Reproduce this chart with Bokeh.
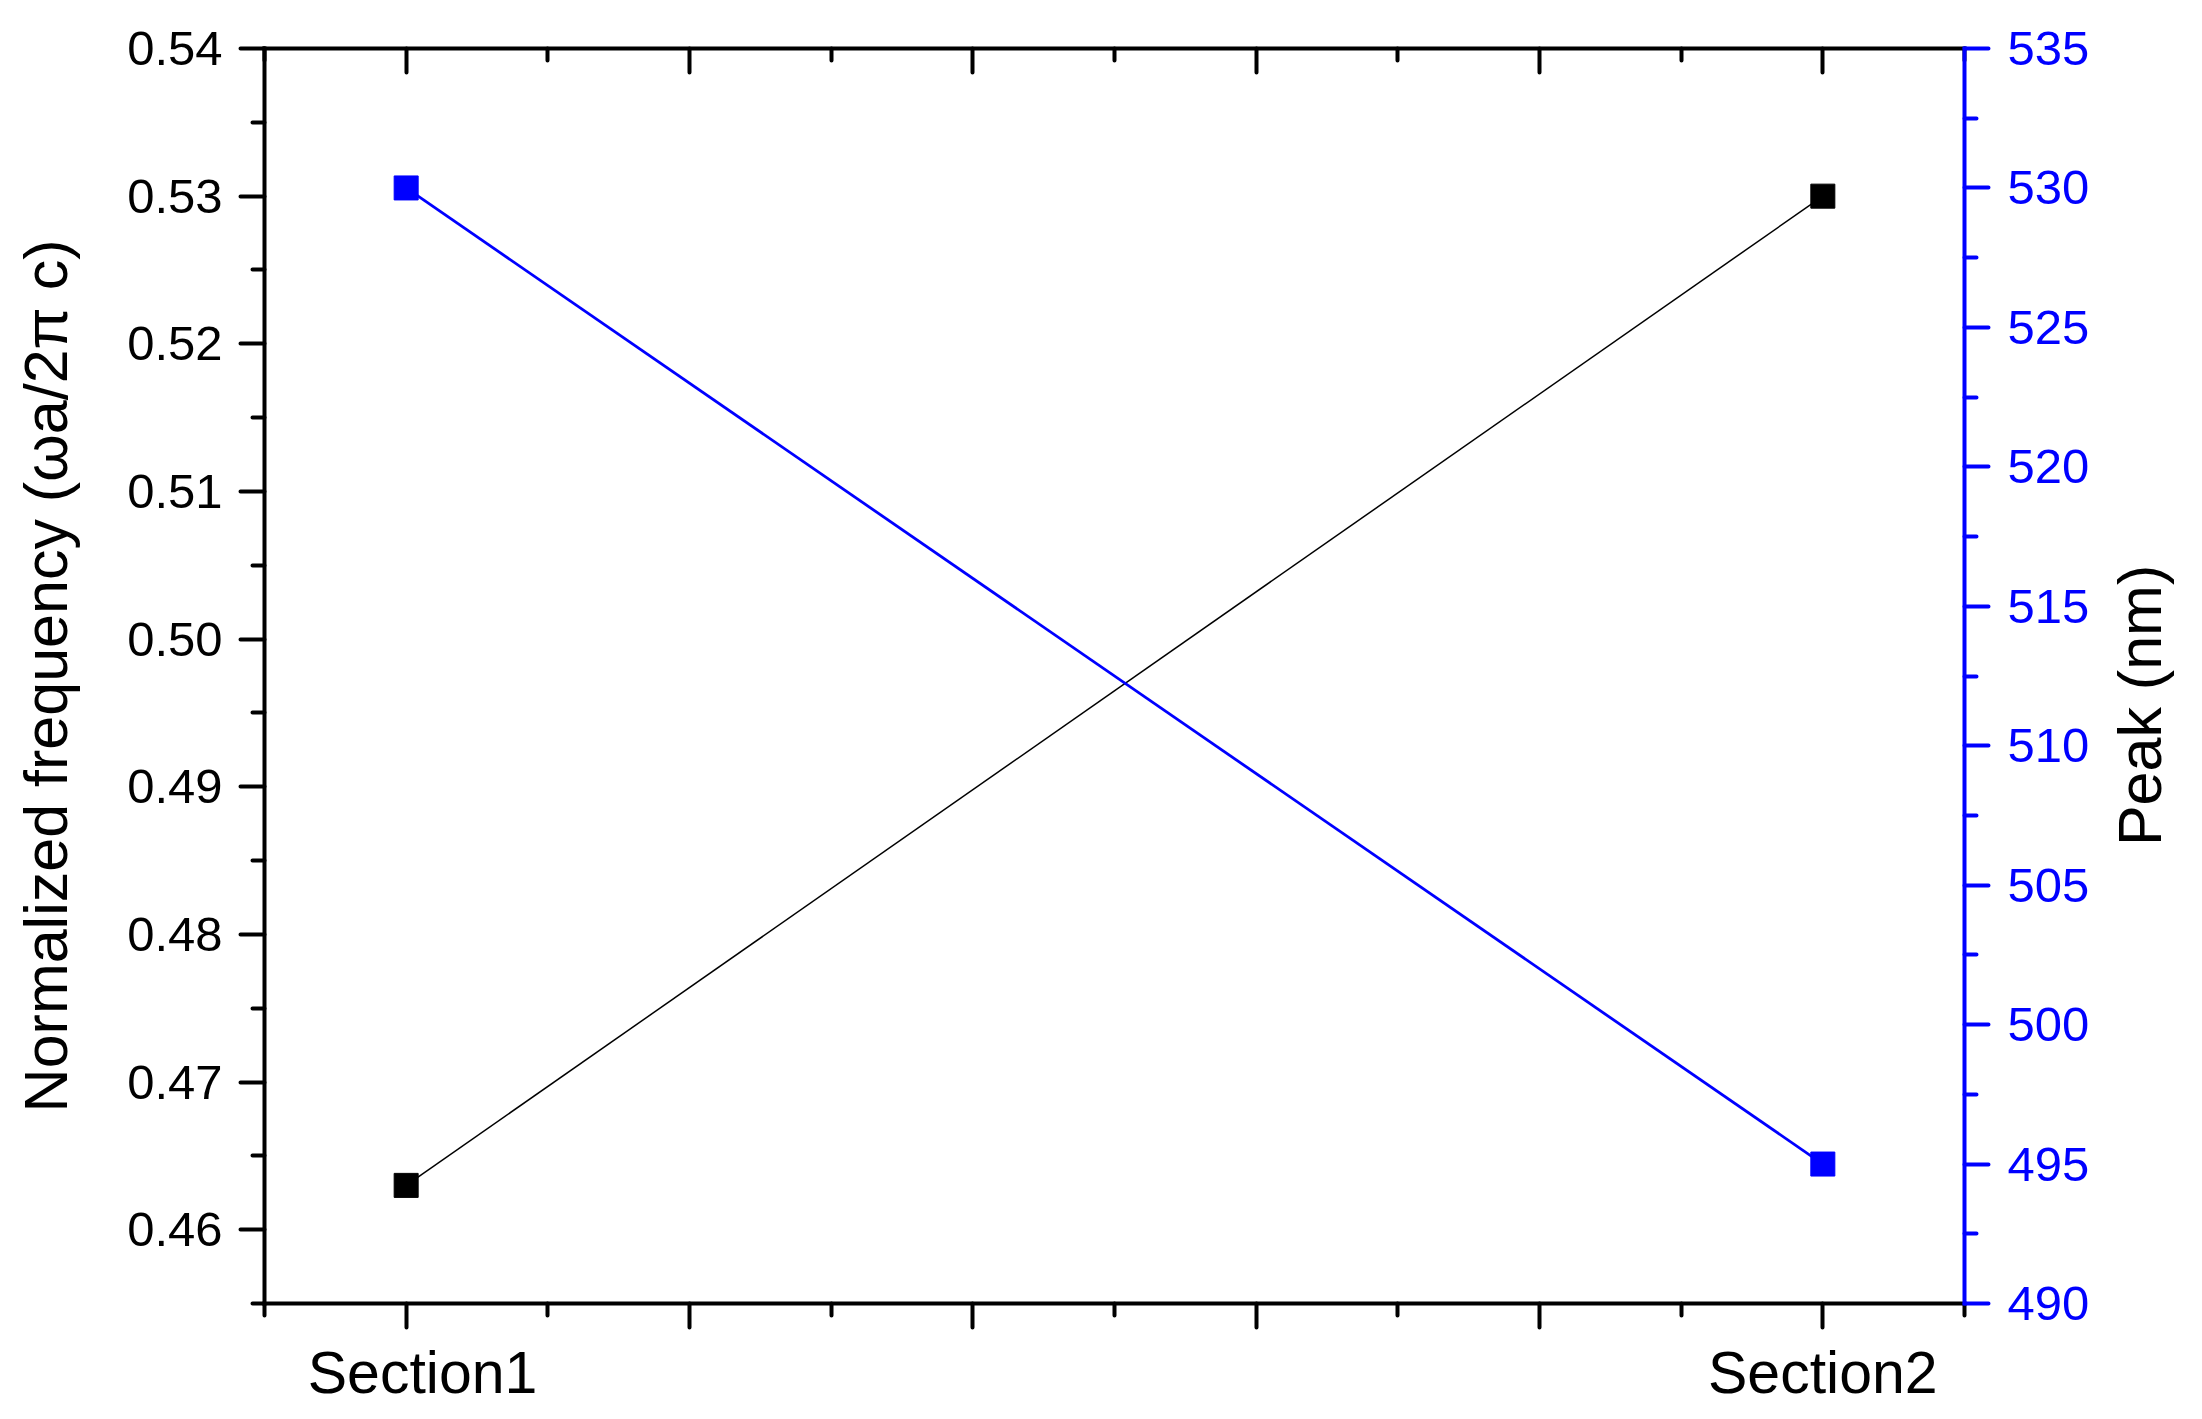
import math
from bokeh.plotting import figure
from bokeh.models import Range1d, LinearAxis, FixedTicker, PrintfTickFormatter, Label
from bokeh.embed import file_html
from bokeh.resources import INLINE

# ---- data ----
sections = ["Section1", "Section2"]
x_pos = [1.0, 2.0]
norm_freq = [0.463, 0.530]
peak_nm = [530, 495]

x_major = [1.0, 1.2, 1.4, 1.6, 1.8, 2.0]
x_minor = [0.9, 1.1, 1.3, 1.5, 1.7, 1.9, 2.1]
y_left_major = [0.46, 0.47, 0.48, 0.49, 0.50, 0.51, 0.52, 0.53, 0.54]
y_left_minor = [0.455, 0.465, 0.475, 0.485, 0.495, 0.505, 0.515, 0.525, 0.535]
y_right_major = [490, 495, 500, 505, 510, 515, 520, 525, 530, 535]
y_right_minor = [492.5, 497.5, 502.5, 507.5, 512.5, 517.5, 522.5, 527.5, 532.5]

left_title = "Normalized frequency (ωa/2π c)"
right_title = "Peak (nm)"

FONT = "Liberation Sans"
BLUE = "#0000ff"

p = figure(frame_width=1700, frame_height=1255,
           x_range=Range1d(0.9, 2.1), y_range=Range1d(0.455, 0.54),
           output_backend="svg", toolbar_location=None,
           min_border_left=264, min_border_top=48, min_border_right=226,
           min_border_bottom=100, x_axis_location=None, y_axis_location=None)
p.grid.visible = False
p.outline_line_color = None
p.background_fill_color = "white"
p.border_fill_color = "white"

p.extra_y_ranges = {"peak": Range1d(490, 535)}

def style(ax, color="black"):
    ax.axis_line_width = 4
    ax.axis_line_color = color
    ax.axis_line_cap = "square"
    ax.major_tick_line_width = 4
    ax.minor_tick_line_width = 4
    ax.major_tick_line_color = color
    ax.minor_tick_line_color = color
    ax.major_tick_line_cap = "round"
    ax.minor_tick_line_cap = "round"
    ax.major_label_text_font = FONT
    ax.major_label_text_color = color
    ax.axis_label_text_font = FONT
    ax.axis_label_text_font_style = "normal"
    ax.axis_label_text_color = "black"

# bottom axis
xb = LinearAxis(ticker=FixedTicker(ticks=x_major, minor_ticks=x_minor))
style(xb)
xb.major_tick_out = 24
xb.major_tick_in = 0
xb.minor_tick_out = 12
xb.minor_tick_in = 0
overrides = {t: "" for t in x_major}
for xp, lab in zip(x_pos, sections):
    overrides[xp] = lab
overrides[x_pos[0]] = "\u00a0\u00a0" + sections[0]
xb.major_label_overrides = overrides
xb.major_label_text_font_size = "59px"
xb.major_label_standoff = 12
p.add_layout(xb, "below")

# top axis (inward ticks, no labels)
xt = LinearAxis(ticker=FixedTicker(ticks=x_major, minor_ticks=x_minor))
style(xt)
xt.major_tick_out = 0
xt.major_tick_in = 24
xt.minor_tick_out = 0
xt.minor_tick_in = 12
xt.major_label_text_font_size = "0px"
xt.major_label_standoff = 0
xt.major_label_text_alpha = 0
p.add_layout(xt, "above")

# left axis
yl = LinearAxis(ticker=FixedTicker(ticks=y_left_major, minor_ticks=y_left_minor),
                formatter=PrintfTickFormatter(format="%.2f"),
                axis_label=left_title)
style(yl)
yl.major_tick_out = 24
yl.major_tick_in = 0
yl.minor_tick_out = 12
yl.minor_tick_in = 0
yl.major_label_text_font_size = "49px"
yl.major_label_standoff = 18
yl.axis_label_text_font_size = "61px"
yl.axis_label_standoff = 44
p.add_layout(yl, "left")

# right axis
yr = LinearAxis(y_range_name="peak",
                ticker=FixedTicker(ticks=y_right_major, minor_ticks=y_right_minor))
style(yr, BLUE)
yr.major_tick_out = 24
yr.major_tick_in = 0
yr.minor_tick_out = 12
yr.minor_tick_in = 0
yr.major_label_text_font_size = "49px"
yr.major_label_standoff = 19
p.add_layout(yr, "right")

# right axis title, reading bottom-to-top (placed in the right side panel so it is not clipped)
p.add_layout(Label(x=2.1, y=506.4, y_range_name="peak", text=right_title,
                   x_offset=175, angle=math.pi / 2, text_align="left",
                   text_baseline="alphabetic", text_font=FONT,
                   text_font_size="61px", text_color="black"), "right")

# series
p.line(x_pos, norm_freq, line_color="black", line_width=1.5)
p.scatter(x_pos, norm_freq, marker="square", size=24, fill_color="black", line_color="black")
p.line(x_pos, peak_nm, line_color=BLUE, line_width=2.8, y_range_name="peak")
p.scatter(x_pos, peak_nm, marker="square", size=24, fill_color=BLUE, line_color=BLUE,
          y_range_name="peak")

open("out.html", "w").write(file_html(p, INLINE))
